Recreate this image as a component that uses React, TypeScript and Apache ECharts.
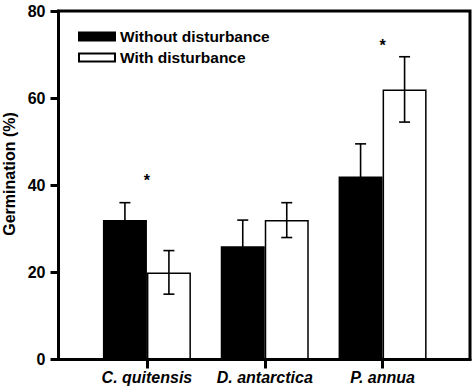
import React, { useEffect, useRef } from "react";
import * as echarts from "echarts";

const categories = ["C. quitensis", "D. antarctica", "P. annua"];
const seriesNames = ["Without disturbance", "With disturbance"];
const withoutValues = [32, 26, 42];
const withoutErrors = [4, 6, 7.5];
const withValues = [20, 32, 62];
const withErrors = [5, 4, 7.5];
const asterisks = [
  [0, 41],
  [2, 72],
];
const yTicks = [0, 20, 40, 60, 80];

const FONT = "Liberation Sans, Arial, Helvetica, sans-serif";
const BAR_W = 44;

export default function App() {
  const ref = useRef<HTMLDivElement>(null);

  useEffect(() => {
    if (!ref.current) return;
    const chart = echarts.init(ref.current, undefined, { renderer: "svg" });

    const errData: number[][] = [];
    withoutValues.forEach((v, i) => errData.push([i, v - withoutErrors[i], v + withoutErrors[i], 0]));
    withValues.forEach((v, i) => errData.push([i, v - withErrors[i], v + withErrors[i], 1]));

    const yMax = yTicks[yTicks.length - 1];
    const yInterval = yTicks[1] - yTicks[0];

    const option: any = {
      animation: false,
      backgroundColor: "#fff",
      grid: [
        { left: 58.5, right: 6, top: 11, bottom: 28.5, show: true, borderColor: "#000", borderWidth: 3 },
        { left: 88, right: 34.5, top: 11, bottom: 28.5 },
      ],
      legend: {
        data: seriesNames,
        orient: "vertical",
        left: 78,
        top: 28.5,
        padding: 0,
        itemWidth: 36,
        itemHeight: 8,
        itemGap: 5,
        textStyle: { fontFamily: FONT, fontWeight: "bold", fontSize: 15.5, color: "#000" },
        icon: "rect",
      },
      xAxis: [
        {
          type: "category",
          gridIndex: 0,
          data: categories,
          axisLine: { show: true, lineStyle: { color: "#000", width: 3 } },
          axisTick: { show: false },
          axisLabel: { show: false },
          splitLine: { show: false },
        },
        {
          type: "category",
          gridIndex: 1,
          data: categories,
          axisLine: { show: false },
          axisTick: { show: true, alignWithLabel: true, length: 9, lineStyle: { color: "#000", width: 3 } },
          axisLabel: {
            interval: 0,
            hideOverlap: false,
            margin: 10,
            fontFamily: FONT,
            fontWeight: "bold",
            fontStyle: "italic",
            fontSize: 16,
            color: "#000",
          },
          splitLine: { show: false },
        },
      ],
      yAxis: [
        {
          type: "value",
          gridIndex: 0,
          min: 0,
          max: yMax,
          interval: yInterval,
          axisLine: { show: true, lineStyle: { color: "#000", width: 3 } },
          axisTick: { show: true, length: 8, lineStyle: { color: "#000", width: 3 } },
          axisLabel: { margin: 13, fontFamily: FONT, fontWeight: "bold", fontSize: 16, color: "#000" },
          splitLine: { show: false },
        },
        {
          type: "value",
          gridIndex: 1,
          min: 0,
          max: yMax,
          interval: yInterval,
          show: false,
          splitLine: { show: false },
        },
      ],
      series: [
        {
          name: seriesNames[0],
          type: "bar",
          xAxisIndex: 1,
          yAxisIndex: 1,
          data: withoutValues,
          barWidth: BAR_W,
          barGap: "0%",
          itemStyle: { color: "#000", borderColor: "#000", borderWidth: 1.5 },
        },
        {
          name: seriesNames[1],
          type: "bar",
          xAxisIndex: 1,
          yAxisIndex: 1,
          data: withValues,
          barWidth: BAR_W,
          barGap: "0%",
          itemStyle: { color: "#fff", borderColor: "#000", borderWidth: 1.5 },
        },
        {
          type: "custom",
          xAxisIndex: 1,
          yAxisIndex: 1,
          data: errData,
          z: 5,
          renderItem: (params: any, api: any) => {
            const idx = api.value(0);
            const lo = api.coord([idx, api.value(1)]);
            const hi = api.coord([idx, api.value(2)]);
            const off = api.value(3) === 0 ? -BAR_W / 2 : BAR_W / 2;
            const x = lo[0] + off;
            const cap = 5.5;
            const style = { stroke: "#000", lineWidth: 1.6 };
            return {
              type: "group",
              children: [
                { type: "line", shape: { x1: x, y1: lo[1], x2: x, y2: hi[1] }, style },
                { type: "line", shape: { x1: x - cap, y1: hi[1], x2: x + cap, y2: hi[1] }, style },
                { type: "line", shape: { x1: x - cap, y1: lo[1], x2: x + cap, y2: lo[1] }, style },
              ],
            };
          },
        },
        {
          type: "custom",
          xAxisIndex: 1,
          yAxisIndex: 1,
          data: asterisks,
          z: 6,
          renderItem: (params: any, api: any) => {
            const p = api.coord([api.value(0), api.value(1)]);
            return {
              type: "text",
              x: p[0],
              y: p[1],
              style: {
                text: "*",
                fill: "#000",
                font: `bold 16px ${FONT}`,
                textAlign: "center",
                textVerticalAlign: "middle",
              },
            };
          },
        },
      ],
      graphic: [
        {
          type: "text",
          x: 9,
          y: 174,
          rotation: Math.PI / 2,
          style: {
            text: "Germination (%)",
            fill: "#000",
            font: `bold 16px ${FONT}`,
            textAlign: "center",
            textVerticalAlign: "middle",
          },
        },
      ],
    };

    chart.setOption(option);
    return () => chart.dispose();
  }, []);

  return (
    <div
      ref={ref}
      style={{ position: "fixed", left: 0, top: 0, width: 476, height: 388, background: "#fff" }}
    />
  );
}
